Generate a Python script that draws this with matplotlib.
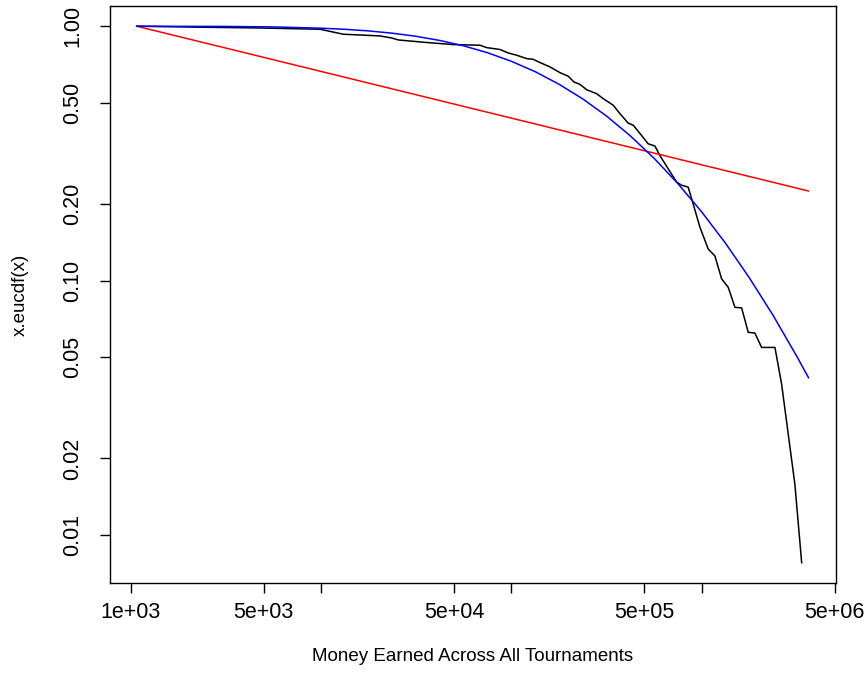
import matplotlib
matplotlib.use("Agg")
import matplotlib.pyplot as plt
from matplotlib.ticker import FixedLocator, FixedFormatter, NullLocator

plt.rcParams['font.family'] = ['Liberation Sans', 'DejaVu Sans']

# empirical complementary cdf (black)
emp_x = [1077, 2600, 4500, 9900, 13100, 20400, 23500, 25500, 35900, 49500,
         68400, 74200, 87100, 96300, 106700, 120300, 130300, 141300, 159500,
         180000, 199000, 213000, 229000, 248500, 280500, 304000, 343000,
         372000, 411000, 437000, 483000, 523000, 568000, 603000, 667000,
         738000, 784000, 849000, 902000, 979000, 1082000, 1173000, 1272000,
         1378000, 1494000, 1621000, 1755000, 1902000, 2064000, 2424000,
         2628000, 3086000, 3350000]
emp_y = [1.0, 0.99, 0.985, 0.973, 0.930, 0.916, 0.899, 0.883, 0.863, 0.847,
         0.842, 0.824, 0.810, 0.785, 0.769, 0.746, 0.741, 0.720, 0.692,
         0.657, 0.636, 0.604, 0.591, 0.563, 0.543, 0.519, 0.489,
         0.453, 0.416, 0.408, 0.372, 0.345, 0.338, 0.310, 0.275,
         0.244, 0.237, 0.233, 0.200, 0.162, 0.133, 0.125, 0.1016,
         0.0941, 0.0785, 0.0781, 0.0626, 0.0622, 0.0546, 0.0546,
         0.0392, 0.0158, 0.00778]

# power-law fit (red)
pl_x = [1077, 3640000]
pl_y = [1.0, 0.225]

# log-normal fit (blue)
ln_x = [1077, 3162, 5623, 10000, 13340, 17780, 23710, 31620, 42170, 56230,
        74990, 100000, 133400, 177800, 237100, 316200, 421700, 562300,
        749900, 1000000, 1334000, 1778000, 2371000, 3162000, 3640000]
ln_y = [0.9998, 0.9979, 0.9935, 0.9824, 0.9725, 0.9584, 0.9387, 0.9126,
        0.8788, 0.837, 0.7867, 0.728, 0.6628, 0.5917, 0.518, 0.4435, 0.3707,
        0.3025, 0.2405, 0.1862, 0.1402, 0.1026, 0.0730, 0.0503, 0.0415]

x_ticks = [1e3, 5e3, 1e4, 5e4, 1e5, 5e5, 1e6, 5e6]
x_labels = ['1e+03', '5e+03', '', '5e+04', '', '5e+05', '', '5e+06']
y_ticks = [0.01, 0.02, 0.05, 0.1, 0.2, 0.5, 1.0]
y_labels = ['0.01', '0.02', '0.05', '0.10', '0.20', '0.50', '1.00']

fig = plt.figure(figsize=(8.66, 6.9), dpi=100)
ax = fig.add_axes([0.1268, 0.155, 0.8383, 0.8362])

ax.plot(emp_x, emp_y, color='black', lw=1.1)
ax.plot(pl_x, pl_y, color='red', lw=1.1)
ax.plot(ln_x, ln_y, color='blue', lw=1.1)

ax.set_xscale('log')
ax.set_yscale('log')
ax.set_xlim(778, 5.06e6)
ax.set_ylim(0.00647, 1.2)

ax.xaxis.set_major_locator(FixedLocator(x_ticks))
ax.xaxis.set_major_formatter(FixedFormatter(x_labels))
ax.xaxis.set_minor_locator(NullLocator())
ax.yaxis.set_major_locator(FixedLocator(y_ticks))
ax.yaxis.set_major_formatter(FixedFormatter(y_labels))
ax.yaxis.set_minor_locator(NullLocator())

ax.tick_params(axis='both', length=7, width=1, labelsize=15.5, color='black')
ax.tick_params(axis='x', pad=6.5)
ax.tick_params(axis='y', pad=12)
for lab in ax.get_yticklabels():
    lab.set_rotation(90)
    lab.set_va('center')

for s in ax.spines.values():
    s.set_linewidth(1)
    s.set_color('black')

ax.set_xlabel('Money Earned Across All Tournaments', fontsize=13.5, labelpad=18)
ax.set_ylabel('x.eucdf(x)', fontsize=13.5, labelpad=24)

fig.savefig('out.png', dpi=100)
